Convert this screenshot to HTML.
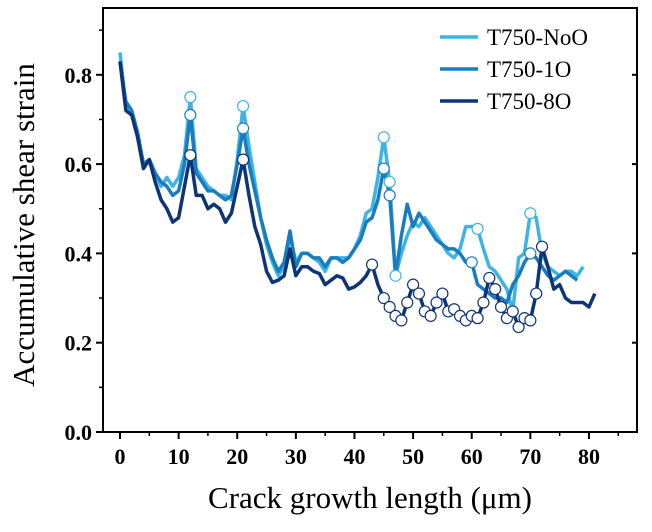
<!DOCTYPE html>
<html><head><meta charset="utf-8"><style>
body{margin:0;background:#fff;}
svg text{font-family:"Liberation Serif",serif;}
</style></head><body>
<svg id="chart" width="652" height="527"></svg>
<script>
const xs=[];for(let i=0;i<=81;i++)xs.push(i);
const noO=[0.85,0.73,0.72,0.67,0.60,0.61,0.58,0.55,0.57,0.55,0.57,0.62,0.75,0.59,0.57,0.55,0.54,0.53,0.53,0.52,0.61,0.73,0.64,0.56,0.48,0.42,0.38,0.35,0.37,0.44,0.38,0.40,0.40,0.39,0.38,0.36,0.39,0.39,0.39,0.39,0.41,0.44,0.49,0.50,0.57,0.66,0.56,0.35,0.40,0.44,0.47,0.46,0.48,0.46,0.44,0.42,0.40,0.39,0.41,0.46,0.46,0.455,0.41,0.37,0.36,0.34,0.32,0.27,0.39,0.40,0.49,0.48,0.40,0.37,0.36,0.35,0.36,0.36,0.35,0.37];
const oneO=[0.83,0.74,0.72,0.67,0.60,0.61,0.58,0.56,0.55,0.53,0.54,0.60,0.71,0.58,0.56,0.54,0.54,0.53,0.52,0.53,0.60,0.68,0.60,0.54,0.48,0.43,0.39,0.36,0.38,0.45,0.37,0.40,0.40,0.39,0.39,0.37,0.39,0.39,0.38,0.39,0.41,0.43,0.47,0.48,0.52,0.59,0.53,0.35,0.44,0.51,0.46,0.49,0.47,0.45,0.43,0.42,0.41,0.41,0.40,0.38,0.38,0.33,0.32,0.31,0.30,0.30,0.29,0.33,0.35,0.38,0.40,0.39,0.37,0.35,0.34,0.35,0.36,0.35,0.34];
const eightO=[0.83,0.72,0.71,0.66,0.59,0.61,0.56,0.52,0.50,0.47,0.48,0.55,0.62,0.53,0.53,0.50,0.51,0.50,0.47,0.49,0.55,0.61,0.53,0.46,0.42,0.36,0.335,0.34,0.35,0.41,0.35,0.37,0.37,0.36,0.355,0.33,0.34,0.35,0.345,0.32,0.325,0.335,0.35,0.375,0.33,0.30,0.28,0.26,0.25,0.29,0.33,0.31,0.27,0.26,0.29,0.31,0.27,0.275,0.26,0.25,0.26,0.255,0.29,0.345,0.32,0.28,0.255,0.27,0.235,0.255,0.25,0.31,0.415,0.37,0.32,0.33,0.30,0.29,0.29,0.29,0.28,0.31];
const noOMarks=[12,21,45,46,47,61,70];
const oneOMarks=[12,21,45,46,60,70];
const eightOMarks=[12,21,43,45,46,47,48,49,50,51,52,53,54,55,56,57,58,59,60,61,62,63,64,65,66,67,68,69,70,71,72];
const xTicks=[0,10,20,30,40,50,60,70,80];
const yTicks=[0.0,0.2,0.4,0.6,0.8];
const seriesNames=["T750-NoO","T750-1O","T750-8O"];
const colors=["#3db5e4","#1a7cc0","#0e3478"];

const L=103,R=637,T=8,B=432;
const X=v=>120+v*5.862;
const Y=v=>B-v*446.5;
const svg=document.getElementById('chart');
const NS='http://www.w3.org/2000/svg';
function mk(t,a,p){const e=document.createElementNS(NS,t);for(const k in a)e.setAttribute(k,a[k]);(p||svg).appendChild(e);return e;}

let fr=mk('rect',{x:L,y:T,width:R-L,height:B-T,fill:'none',stroke:'#000','stroke-width':2});



xTicks.forEach(t=>{
  const l=mk('line',{x1:X(t),x2:X(t),y1:B,y2:B+7,stroke:'#000','stroke-width':2});
  
  
  const tx=mk('text',{x:X(t),y:B+32,'text-anchor':'middle','font-size':22,'font-weight':'bold'});
  tx.textContent=t;
  
  
});
for(let t=5;t<=85;t+=10){if(X(t)<R){const l=mk('line',{x1:X(t),x2:X(t),y1:B,y2:B+4,stroke:'#000','stroke-width':1.5});}}
yTicks.forEach(t=>{
  const l=mk('line',{x1:L-7,x2:L,y1:Y(t),y2:Y(t),stroke:'#000','stroke-width':2});
  
  
  const r=mk('line',{x1:R,x2:R-5,y1:Y(t),y2:Y(t),stroke:'#000','stroke-width':2});
  
  
  const tx=mk('text',{x:L-11,y:Y(t)+8,'text-anchor':'end','font-size':22,'font-weight':'bold'});
  tx.textContent=t.toFixed(1);
  
  
});
for(let t=0.1;t<0.95;t+=0.2){const l=mk('line',{x1:L-4,x2:L,y1:Y(t),y2:Y(t),stroke:'#000','stroke-width':1.5});}

const xt=mk('text',{x:370,y:508,'text-anchor':'middle','font-size':31});
xt.textContent='Crack growth length (μm)';


const yt=mk('text',{x:0,y:0,'text-anchor':'middle','font-size':31,transform:'translate(34,225) rotate(-90)'});
yt.textContent='Accumulative shear strain';



const all=[noO,oneO,eightO],marks=[noOMarks,oneOMarks,eightOMarks];
const names=['series-t750-noo','series-t750-1o','series-t750-8o'];
all.forEach((s,i)=>{
  const p=mk('polyline',{points:s.map((v,j)=>X(xs[j])+','+Y(v)).join(' '),fill:'none',stroke:colors[i],'stroke-width':3.5,'stroke-linejoin':'round'});
  
  
});
all.forEach((s,i)=>{
  marks[i].forEach(j=>{
    const c=mk('circle',{cx:X(xs[j]),cy:Y(s[j]),r:5.5,fill:'#fff',stroke:colors[i],'stroke-width':1.2});
    
    
  });
});

seriesNames.forEach((n,i)=>{
  const y=37+i*32;
  const l=mk('line',{x1:440,x2:478,y1:y,y2:y,stroke:colors[i],'stroke-width':3.5});
  
  
  const t=mk('text',{x:487,y:y+8,'font-size':23});
  t.textContent=n;
  
  
});
</script>
</body></html>
